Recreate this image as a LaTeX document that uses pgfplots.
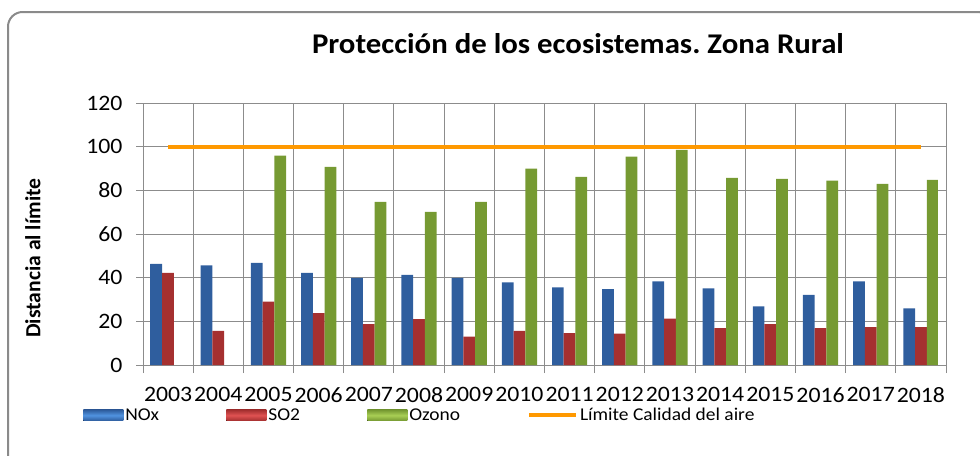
\documentclass[border=0pt]{standalone}
\usepackage{pgfplots}
\pgfplotsset{compat=1.18}
\usepackage{fontspec}
\setmainfont{Carlito}[FakeStretch=1.08]
\newfontfamily\plainfont{Carlito}
\definecolor{noxmid}{HTML}{5093E0}
\definecolor{noxedge}{HTML}{2F5E9E}
\definecolor{so2mid}{HTML}{E05252}
\definecolor{so2edge}{HTML}{A53030}
\definecolor{ozmid}{HTML}{A9CF55}
\definecolor{ozedge}{HTML}{769A32}
\definecolor{limite}{HTML}{FF9900}
\definecolor{gridgray}{HTML}{8C8C8C}
\definecolor{framegray}{HTML}{8A8A8A}
\frenchspacing
\begin{document}
\begin{tikzpicture}
\useasboundingbox (0pt,0pt) rectangle (735pt,341.25pt);
\begin{scope}
\clip (0pt,0pt) rectangle (735pt,341.25pt);
\draw[framegray, line width=1.5pt, rounded corners=11pt] (6pt,-11.25pt) rectangle (744pt,332.25pt);
\end{scope}
\node[anchor=base, font=\bfseries\fontsize{21.4}{25}\selectfont] at (433.5pt,301.5pt) {Protección de los ecosistemas. Zona Rural};
\begin{axis}[
  at={(107.25pt,67.5pt)}, anchor=south west,
  scale only axis, width=602.25pt, height=196.5pt,
  xmin=-0.5, xmax=15.5, ymin=0, ymax=120,
  xtick={0,...,15},
  xticklabels={2003,2004,2005,2006,2007,2008,2009,2010,2011,2012,2013,2014,2015,2016,2017,2018},
  minor xtick={-0.5,0.5,...,15.5},
  ytick={0,20,...,120},
  xminorgrids, ymajorgrids,
  tick align=outside, tick pos=left,
  major tick length=5.25pt, minor tick length=6pt,
  major x tick style={draw=none},
  grid style={draw=gridgray, line width=0.75pt},
  axis line style={draw=gridgray, line width=0.75pt},
  every tick/.style={draw=gridgray, line width=0.75pt},
  minor tick style={draw=gridgray, line width=0.75pt},
  /pgf/number format/assume math mode=true,
  ticklabel style={font=\fontsize{16.5}{19}\selectfont},
  yticklabel style={inner sep=0pt, xshift=-10pt},
  xticklabel style={inner sep=0pt, anchor=north, yshift=-11.5pt},
  ylabel={Distancia al límite},
  every axis y label/.style={at={(axis description cs:-0.137,0.408)}, rotate=90, anchor=center,
    font=\plainfont\bfseries\fontsize{16.2}{19}\selectfont},
  legend columns=4,
  legend style={at={(axis description cs:-0.0747,-0.192)}, anchor=west, draw=none, fill=none,
    inner sep=0pt, font=\fontsize{13.5}{16}\selectfont,
    nodes={inner sep=1.5pt},
    /tikz/every even column/.append style={column sep=49pt}},
  legend cell align=left,
]
\addplot[ybar, bar width=8.8pt, bar shift=-8.8pt, draw=none, left color=noxedge, middle color=noxmid, right color=noxedge,
  legend image code/.code={\fill[left color=noxedge, right color=noxedge, middle color=noxmid, shading angle=0] (0pt,-4pt) rectangle (30pt,4pt);}]
  coordinates {(0,46.3) (1,45.6) (2,46.8) (3,42.2) (4,39.9) (5,41.3) (6,39.9) (7,37.9) (8,35.6) (9,34.7) (10,38.3) (11,35.1) (12,26.8) (13,32.1) (14,38.3) (15,25.9)};
\addlegendentry{NOx}
\addplot[ybar, bar width=8.8pt, bar shift=0pt, draw=none, left color=so2edge, middle color=so2mid, right color=so2edge,
  legend image code/.code={\fill[left color=so2edge, right color=so2edge, middle color=so2mid, shading angle=0] (0pt,-4pt) rectangle (30pt,4pt);}]
  coordinates {(0,42.2) (1,15.6) (2,29.0) (3,23.8) (4,18.7) (5,21.0) (6,13.0) (7,15.6) (8,14.6) (9,14.4) (10,21.3) (11,16.9) (12,18.7) (13,16.9) (14,17.4) (15,17.4)};
\addlegendentry{SO2}
\addplot[ybar, bar width=8.8pt, bar shift=8.8pt, draw=none, left color=ozedge, middle color=ozmid, right color=ozedge,
  legend image code/.code={\fill[left color=ozedge, right color=ozedge, middle color=ozmid, shading angle=0] (0pt,-4pt) rectangle (30pt,4pt);}]
  coordinates {(2,95.9) (3,90.8) (4,74.7) (5,70.1) (6,74.7) (7,89.9) (8,86.2) (9,95.4) (10,98.5) (11,85.7) (12,85.3) (13,84.4) (14,83.0) (15,84.8)};
\addlegendentry{Ozono}
\addplot[limite, line width=3pt, mark=none,
  legend image code/.code={\draw[limite, line width=3pt] (0pt,0pt) -- (35pt,0pt);}]
  coordinates {(0,100) (15,100)};
\addlegendentry{Límite Calidad del aire}
\end{axis}
\end{tikzpicture}
\end{document}
